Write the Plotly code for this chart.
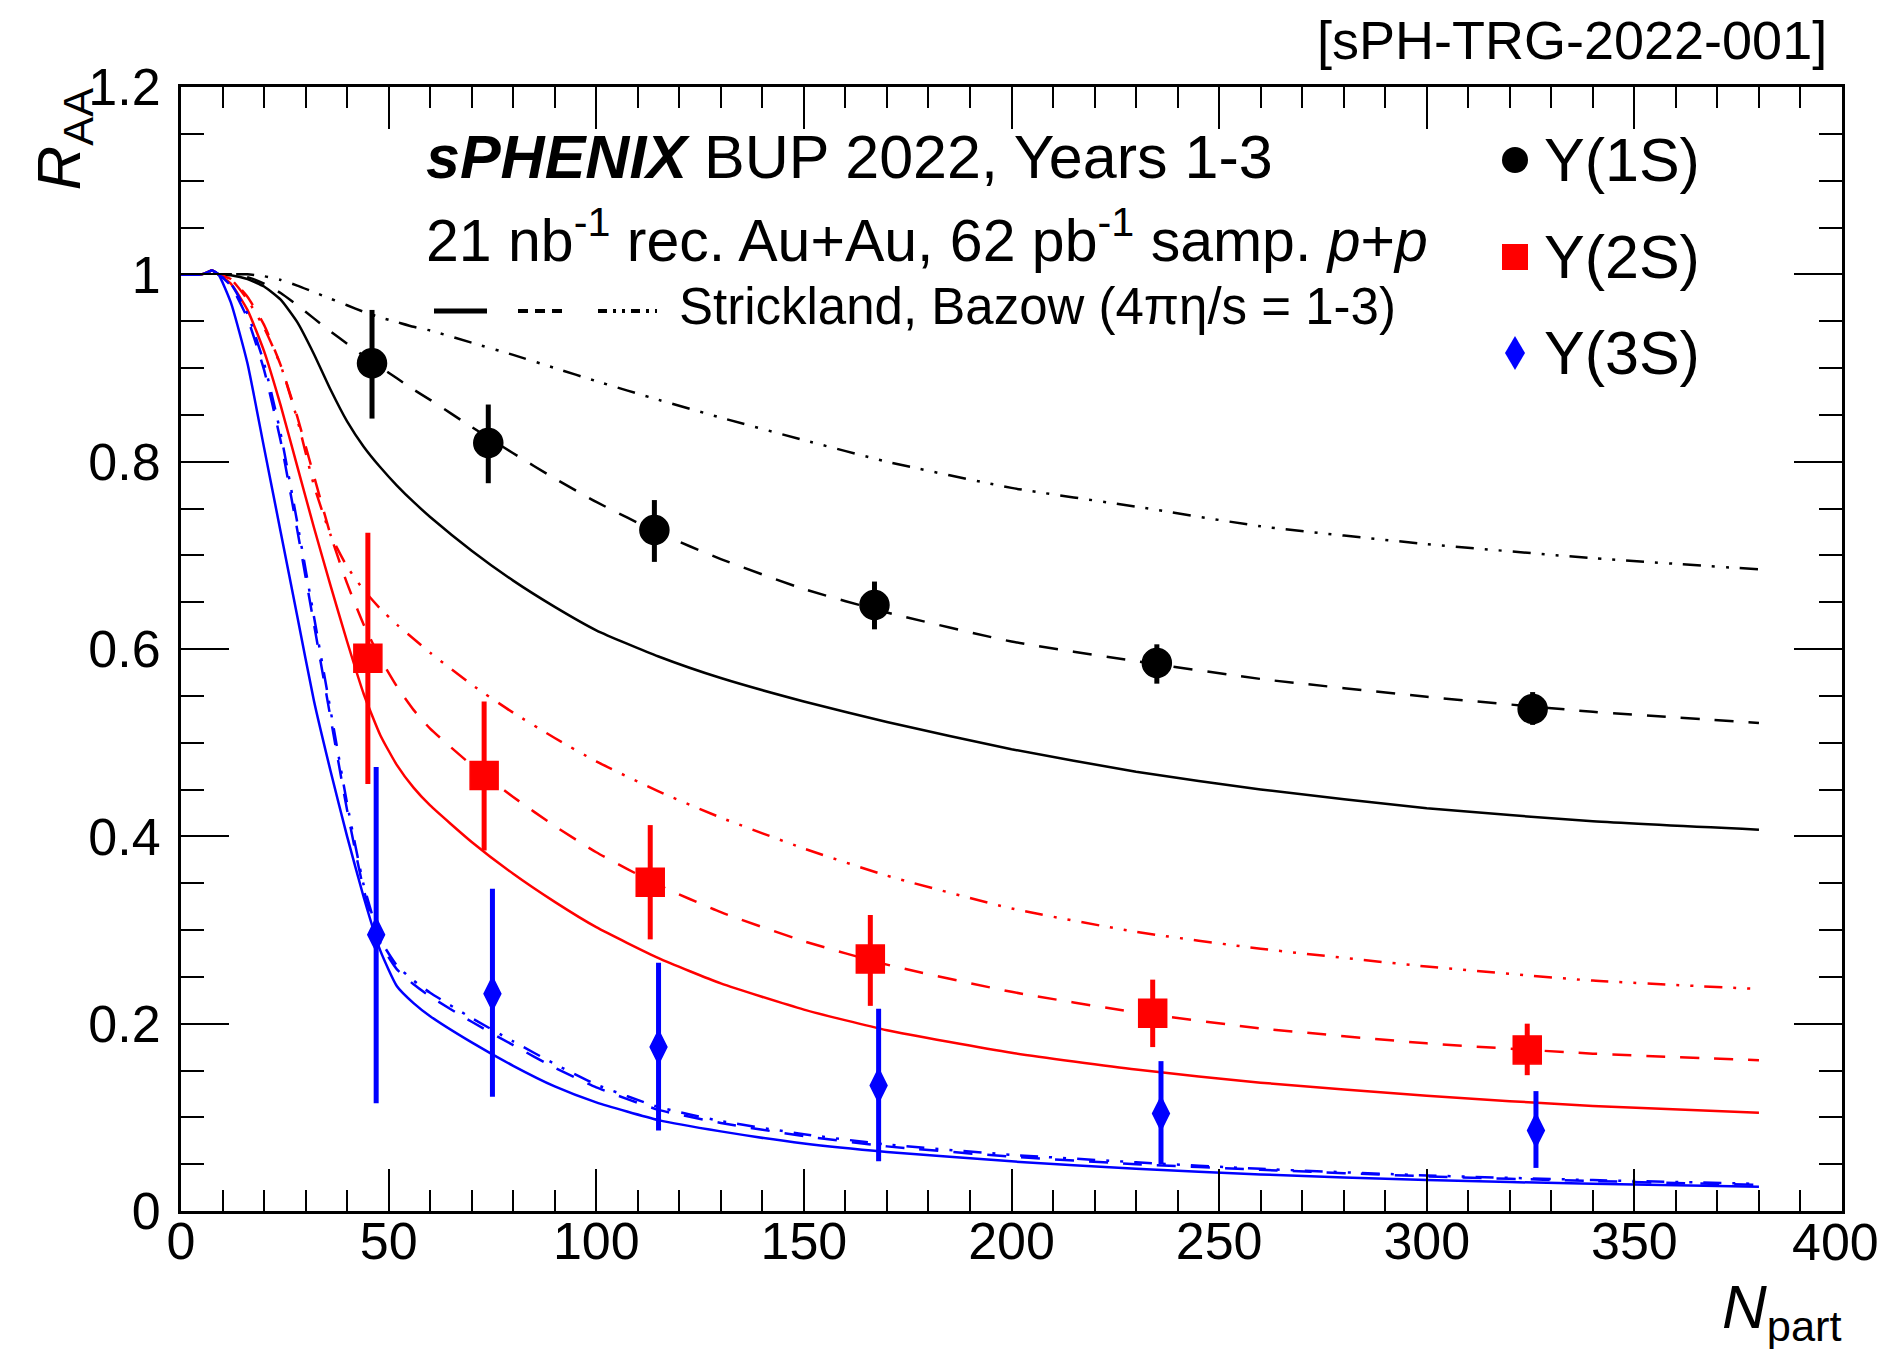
import plotly.graph_objects as go

# ---------------- data ----------------
npart_grid = [0, 5, 7.5, 9, 12, 16, 20, 24, 28, 32, 36, 40, 44, 48, 52, 56, 60, 70, 80,
              90, 100, 115, 130, 150, 170, 200, 230, 260, 300, 340, 380]

# Strickland, Bazow model, 4*pi*eta/s = 1 (solid), 2 (dashed), 3 (dash-dot-dot)
y1s_eta1 = [1.0, 1.0, 1.004, 1.0, 0.999, 0.995, 0.987, 0.973, 0.949, 0.915, 0.877, 0.843, 0.816,
            0.794, 0.7745, 0.757, 0.741, 0.705, 0.673, 0.645, 0.620, 0.592, 0.569, 0.544, 0.522,
            0.493, 0.469, 0.450, 0.430, 0.416, 0.407]
y1s_eta2 = [1.0, 1.0, 1.004, 1.0, 1.0, 0.997, 0.990, 0.980, 0.967, 0.953, 0.939, 0.926, 0.913,
            0.901, 0.889, 0.877, 0.866, 0.837, 0.809, 0.782, 0.757, 0.724, 0.696, 0.664, 0.639,
            0.608, 0.587, 0.568, 0.549, 0.533, 0.521]
y1s_eta3 = [1.0, 1.0, 1.004, 1.0, 1.0, 1.0, 0.998, 0.994, 0.988, 0.981, 0.974, 0.967, 0.960,
            0.954, 0.949, 0.944, 0.940, 0.927, 0.914, 0.900, 0.886, 0.866, 0.847, 0.823, 0.800,
            0.772, 0.752, 0.731, 0.712, 0.697, 0.685]

y2s_eta1 = [1.0, 1.0, 1.004, 1.0, 0.990, 0.962, 0.918, 0.860, 0.795, 0.730, 0.668, 0.608, 0.552,
            0.508, 0.476, 0.452, 0.433, 0.394, 0.360, 0.330, 0.303, 0.270, 0.243, 0.215, 0.193,
            0.169, 0.151, 0.137, 0.123, 0.112, 0.105]
y2s_eta2 = [1.0, 1.0, 1.004, 1.0, 0.995, 0.976, 0.946, 0.903, 0.848, 0.785, 0.722, 0.670, 0.626,
            0.590, 0.560, 0.535, 0.515, 0.476, 0.442, 0.411, 0.383, 0.348, 0.319, 0.288, 0.263,
            0.234, 0.212, 0.195, 0.179, 0.168, 0.161]
y2s_eta3 = [1.0, 1.0, 1.004, 1.0, 0.995, 0.973, 0.943, 0.903, 0.845, 0.775, 0.722, 0.688, 0.663,
            0.643, 0.626, 0.611, 0.596, 0.562, 0.532, 0.505, 0.480, 0.448, 0.420, 0.387, 0.358,
            0.323, 0.298, 0.280, 0.261, 0.246, 0.237]

y3s_eta1 = [1.0, 1.0, 1.004, 1.0, 0.970, 0.905, 0.815, 0.725, 0.635, 0.545, 0.470, 0.400, 0.335,
            0.278, 0.240, 0.222, 0.208, 0.180, 0.155, 0.133, 0.116, 0.097, 0.085, 0.072, 0.063,
            0.053, 0.045, 0.039, 0.033, 0.029, 0.026]
y3s_eta2 = [1.0, 1.0, 1.004, 1.0, 0.988, 0.953, 0.898, 0.822, 0.727, 0.627, 0.527, 0.428, 0.343,
            0.286, 0.258, 0.242, 0.229, 0.202, 0.177, 0.153, 0.132, 0.108, 0.094, 0.080, 0.069,
            0.058, 0.050, 0.044, 0.037, 0.032, 0.028]
y3s_eta3 = [1.0, 1.0, 1.004, 1.0, 0.990, 0.958, 0.905, 0.830, 0.735, 0.635, 0.535, 0.435, 0.348,
            0.290, 0.262, 0.246, 0.233, 0.206, 0.181, 0.157, 0.135, 0.111, 0.096, 0.082, 0.071,
            0.060, 0.052, 0.045, 0.038, 0.033, 0.029]

# projected data points
npart_1s = [46, 74, 114, 167, 235, 325.5]
raa_1s = [0.905, 0.820, 0.727, 0.647, 0.585, 0.536]
err_up_1s = [0.057, 0.041, 0.032, 0.025, 0.020, 0.018]
err_dn_1s = [0.059, 0.043, 0.034, 0.026, 0.022, 0.017]

npart_2s = [45, 73, 113, 166, 234, 324.2]
raa_2s = [0.590, 0.465, 0.351, 0.269, 0.211, 0.172]
err_up_2s = [0.134, 0.079, 0.061, 0.047, 0.036, 0.028]
err_dn_2s = [0.134, 0.080, 0.061, 0.050, 0.036, 0.027]

npart_3s = [47, 75, 115, 168, 236, 326.3]
raa_3s = [0.295, 0.232, 0.175, 0.134, 0.104, 0.086]
err_up_3s = [0.179, 0.112, 0.090, 0.082, 0.056, 0.042]
err_dn_3s = [0.180, 0.110, 0.089, 0.081, 0.054, 0.040]

x_ticks = [0, 50, 100, 150, 200, 250, 300, 350, 400]
x_ticklabels = ["0", "50", "100", "150", "200", "250", "300", "350", "400"]
y_ticks = [0, 0.2, 0.4, 0.6, 0.8, 1.0, 1.2]
y_ticklabels = ["0", "0.2", "0.4", "0.6", "0.8", "1", "1.2"]

# ---------------- styling ----------------
FONT = "Liberation Sans, Arial, Helvetica, sans-serif"
BLACK, RED, BLUE = "#000000", "#ff0000", "#0000ff"
DASH = "19px,15px"
DASHDOTDOT = "18px,11px,3px,11px,3px,11px"
TICKSIZE = 52

# page is 1890x1357; the html body has an 8px margin
BODY = 8
W, H = 1890 - 2 * BODY, 1357 - 2 * BODY
PL, PT, PW, PH = 181, 87, 1661, 1124          # plot area in page pixels
ML, MT = PL - BODY, PT - BODY
MR, MB = W - ML - PW, H - MT - PH


def fx(px):
    return (px - PL) / PW


def fy(py):
    return (PT + PH - py) / PH


fig = go.Figure()

curves = [
    (y1s_eta3, BLACK, DASHDOTDOT), (y1s_eta2, BLACK, DASH), (y1s_eta1, BLACK, "solid"),
    (y2s_eta3, RED, DASHDOTDOT), (y2s_eta2, RED, DASH), (y2s_eta1, RED, "solid"),
    (y3s_eta3, BLUE, DASHDOTDOT), (y3s_eta2, BLUE, DASH), (y3s_eta1, BLUE, "solid"),
]
for yv, col, dash in curves:
    fig.add_trace(go.Scatter(
        x=npart_grid, y=yv, mode="lines",
        line=dict(color=col, width=2.5, dash=dash, shape="spline", smoothing=0.5),
        showlegend=False, hoverinfo="skip"))

points = [
    (npart_1s, raa_1s, err_up_1s, err_dn_1s, BLACK, "circle", 29),
    (npart_2s, raa_2s, err_up_2s, err_dn_2s, RED, "square", 28),
    (npart_3s, raa_3s, err_up_3s, err_dn_3s, BLUE, "diamond-tall", 24),
]
for xs, ys, up, dn, col, sym, size in points:
    fig.add_trace(go.Scatter(
        x=xs, y=ys, mode="markers",
        marker=dict(color=col, symbol=sym, size=size, line=dict(width=1.5, color=col)),
        error_y=dict(type="data", symmetric=False, array=up, arrayminus=dn,
                     thickness=5, width=0, color=col),
        showlegend=False))

axis_common = dict(
    showline=True, linecolor=BLACK, linewidth=3, mirror="ticks",
    ticks="inside", tickcolor=BLACK, tickwidth=2,
    showgrid=False, zeroline=False,
    tickfont=dict(family=FONT, size=TICKSIZE, color=BLACK),
)

# the last x label would overflow the page edge, so it is drawn as an annotation below
x_axis_text = x_ticklabels[:-1] + [""]
fig.update_xaxes(range=[0, 400], tickmode="array", tickvals=x_ticks, ticktext=x_axis_text,
                 ticklen=42, ticklabelstandoff=-17,
                 minor=dict(ticks="inside", ticklen=21, tickwidth=2, tickcolor=BLACK,
                            dtick=10, showgrid=False),
                 **axis_common)
fig.update_yaxes(range=[0, 1.2], tickmode="array", tickvals=y_ticks, ticktext=y_ticklabels,
                 ticklen=48, ticklabelstandoff=7,
                 minor=dict(ticks="inside", ticklen=23, tickwidth=2, tickcolor=BLACK,
                            dtick=0.05, showgrid=False),
                 **axis_common)

ann = []


def text(px, py, s, size, xanchor="left", yanchor="middle", angle=0):
    ann.append(dict(x=fx(px), y=fy(py), xref="paper", yref="paper", text=s,
                    showarrow=False, xanchor=xanchor, yanchor=yanchor, textangle=angle,
                    font=dict(family=FONT, size=size, color=BLACK)))


text(1829, 40, "[sPH-TRG-2022-001]", 54, xanchor="right")
text(424, 157, "<b><i>sPHENIX</i></b> BUP 2022, Years 1-3", 61)
text(424, 236, "21 nb<sup>-1</sup> rec. Au+Au, 62 pb<sup>-1</sup> samp. <i>p</i>+<i>p</i>", 59)
text(677, 306, "Strickland, Bazow (4\u03c0\u03b7/s = 1-3)", 51)
text(1542, 160, "\u03a5(1S)", 61)
text(1542, 257, "\u03a5(2S)", 61)
text(1542, 353, "\u03a5(3S)", 61)
text(62, 86, "<i>R</i><sub>AA</sub>", 62, xanchor="center", yanchor="top", angle=-90)
text(1844, 1270, "<i>N</i><sub>part</sub>", 62, xanchor="right", yanchor="top")
text(1880, 1242, x_ticklabels[-1], TICKSIZE, xanchor="right")
for a in ann[-1:]:
    a["borderpad"] = 0
fig.update_layout(annotations=ann)

shapes = []
# legend line samples
for x0, x1, dash, wid in [(434, 487, "solid", 5), (518, 568, "10px,7px", 4),
                          (598, 657, "9px,6px,3px,6px,3px,6px", 4)]:
    shapes.append(dict(type="line", xref="paper", yref="paper",
                       x0=fx(x0), x1=fx(x1), y0=fy(311), y1=fy(311),
                       line=dict(color=BLACK, width=wid, dash=dash)))
# legend markers
shapes.append(dict(type="circle", xref="paper", yref="paper",
                   x0=fx(1502), x1=fx(1528), y0=fy(173), y1=fy(147),
                   fillcolor=BLACK, line=dict(width=0)))
shapes.append(dict(type="rect", xref="paper", yref="paper",
                   x0=fx(1502), x1=fx(1528), y0=fy(270), y1=fy(244),
                   fillcolor=RED, line=dict(width=0)))
cx, cy, hw, hh = 1515, 353, 10, 17
path = "M {} {} L {} {} L {} {} L {} {} Z".format(
    fx(cx), fy(cy - hh), fx(cx + hw), fy(cy), fx(cx), fy(cy + hh), fx(cx - hw), fy(cy))
shapes.append(dict(type="path", xref="paper", yref="paper", path=path,
                   fillcolor=BLUE, line=dict(width=0)))
fig.update_layout(shapes=shapes)

fig.update_layout(
    width=W, height=H,
    margin=dict(l=ML, r=MR, t=MT, b=MB, pad=0),
    paper_bgcolor="white", plot_bgcolor="white",
    showlegend=False,
    font=dict(family=FONT, color=BLACK),
)

fig.write_html("out.html")
